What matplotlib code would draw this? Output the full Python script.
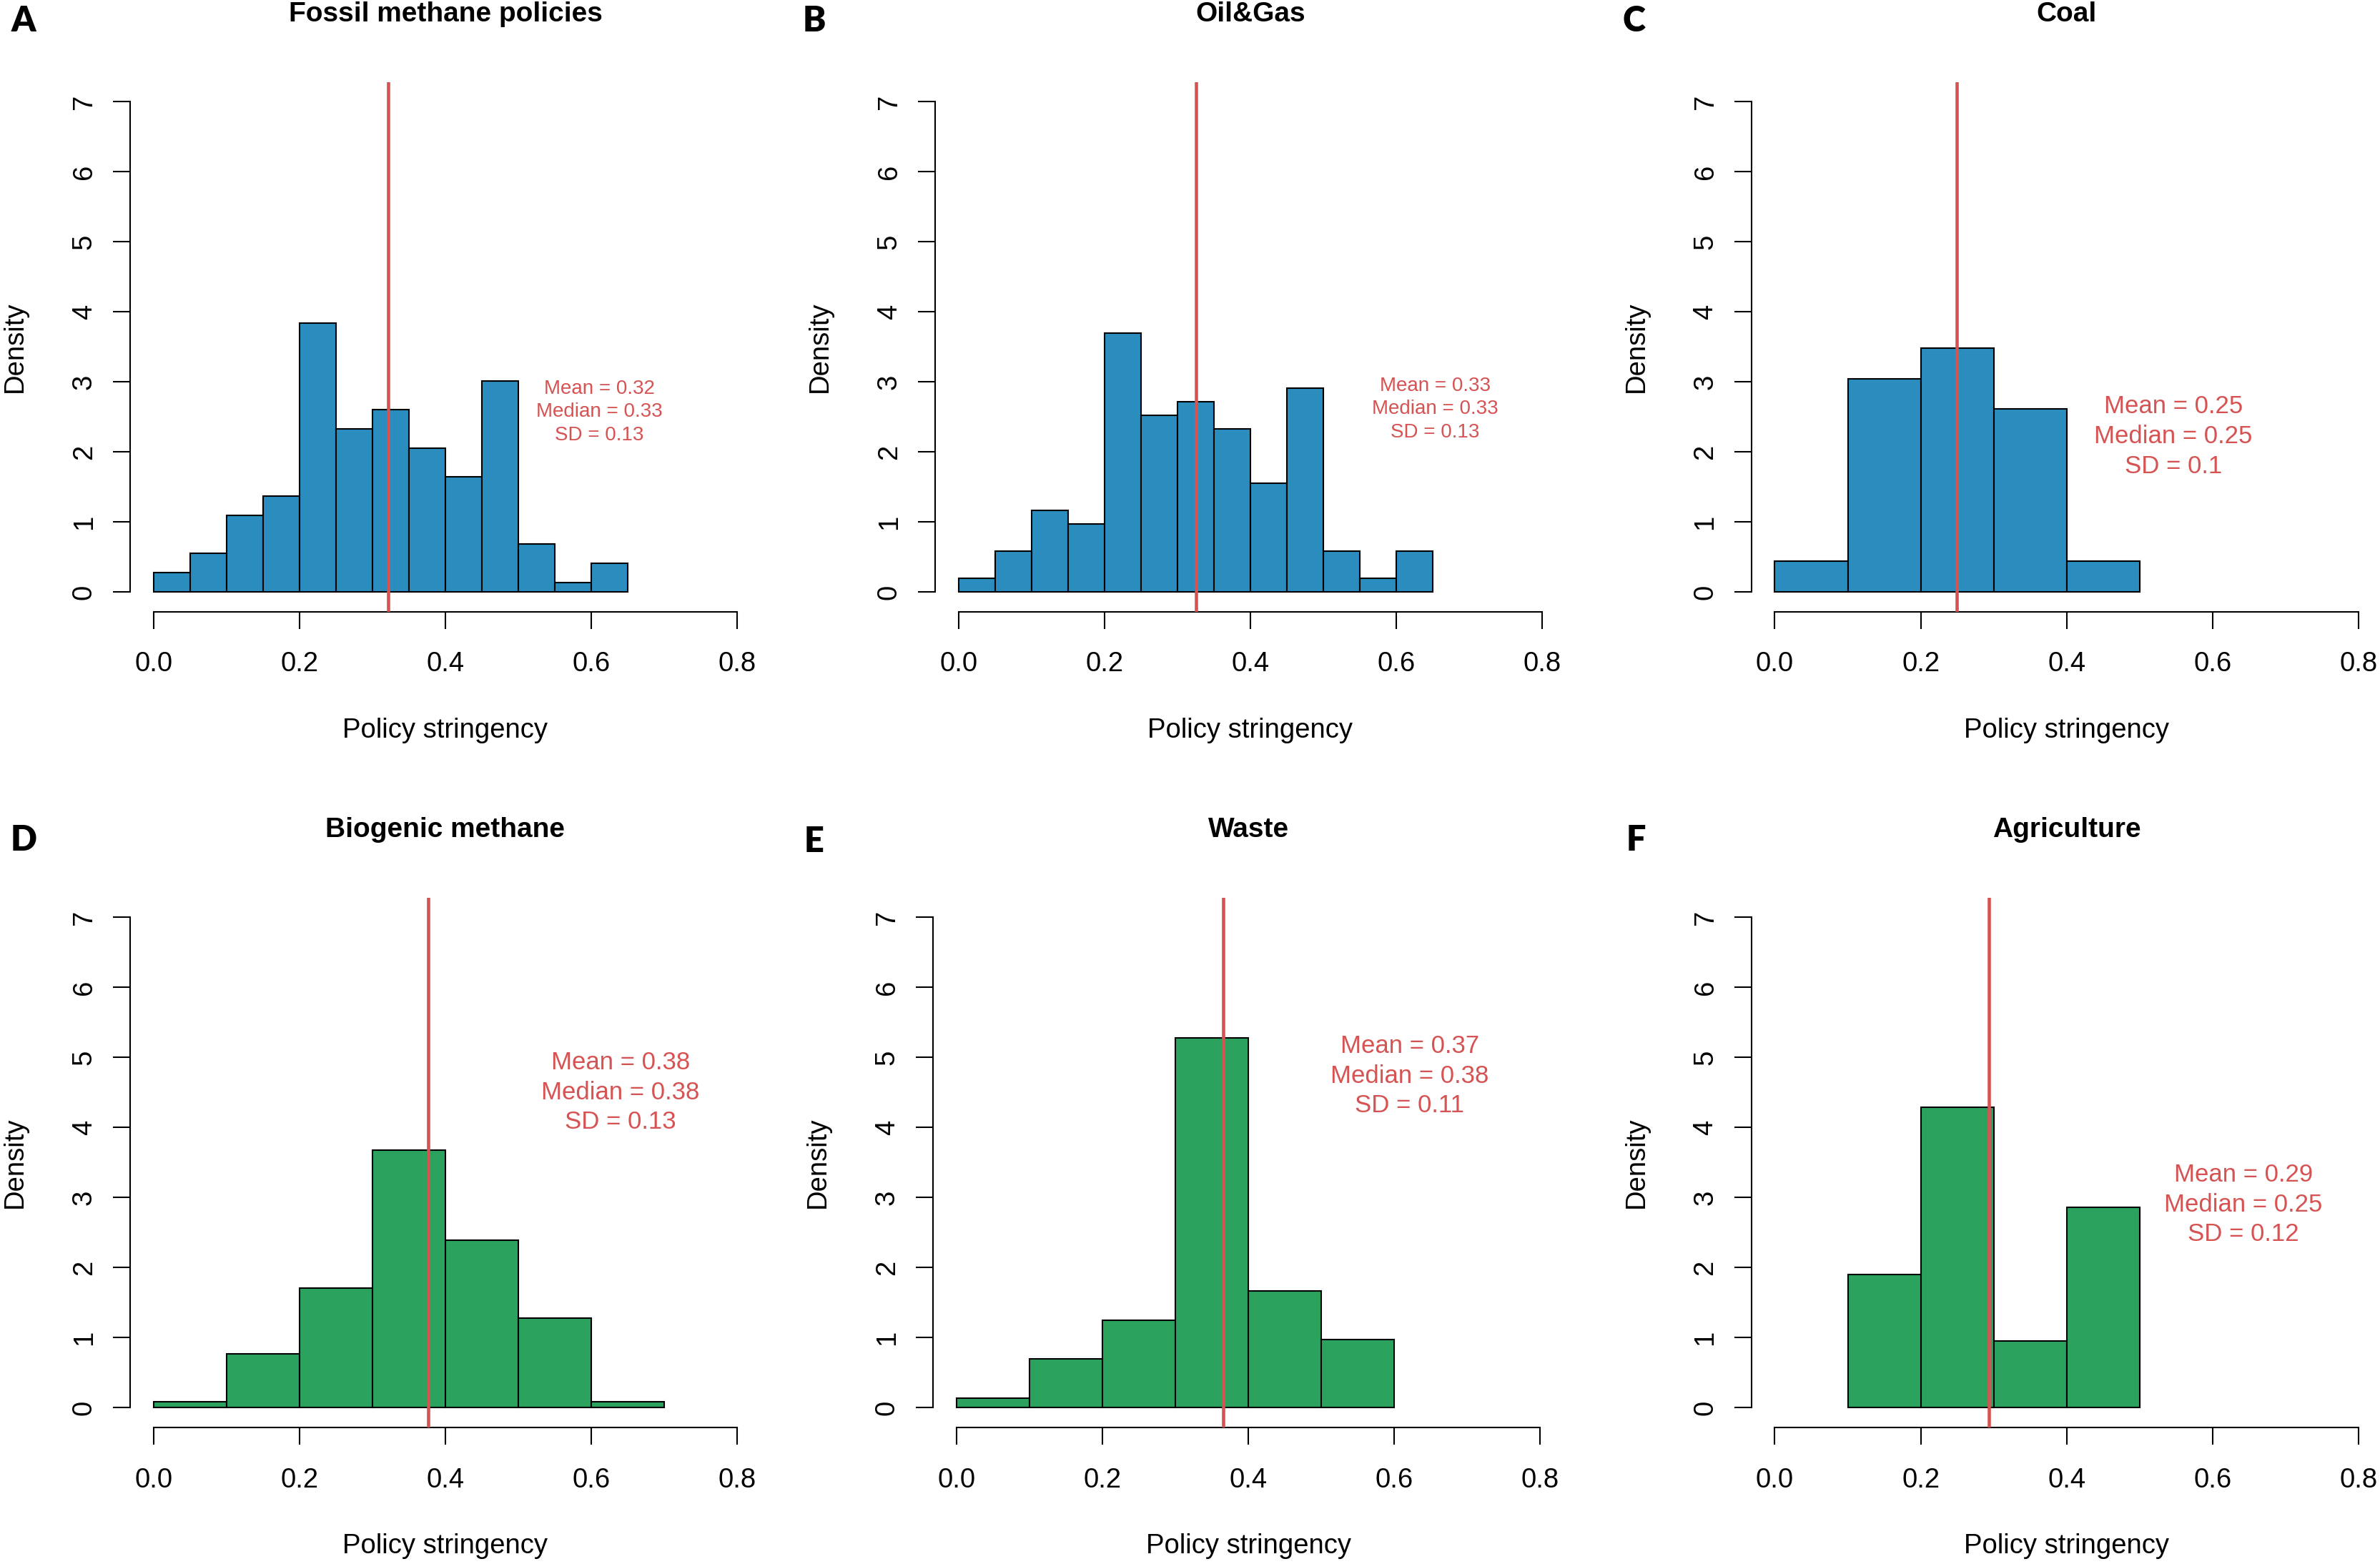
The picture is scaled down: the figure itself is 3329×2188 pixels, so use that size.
import matplotlib
matplotlib.use("Agg")
import matplotlib.pyplot as plt

plt.rcParams['font.family'] = ['Liberation Sans', 'DejaVu Sans']

# ---------------- data ----------------
titles = ["Fossil methane policies", "Oil&Gas", "Coal",
          "Biogenic methane", "Waste", "Agriculture"]
panel_letters = ["A", "B", "C", "D", "E", "F"]

fossil_bins = [0.00, 0.05, 0.10, 0.15, 0.20, 0.25, 0.30, 0.35, 0.40, 0.45, 0.50, 0.55, 0.60]
fossil_density = [0.274, 0.548, 1.096, 1.370, 3.836, 2.329, 2.603, 2.055, 1.644, 3.014, 0.685, 0.137, 0.411]

oilgas_bins = [0.00, 0.05, 0.10, 0.15, 0.20, 0.25, 0.30, 0.35, 0.40, 0.45, 0.50, 0.55, 0.60]
oilgas_density = [0.194, 0.583, 1.165, 0.971, 3.689, 2.524, 2.718, 2.330, 1.553, 2.913, 0.583, 0.194, 0.583]

coal_bins = [0.0, 0.1, 0.2, 0.3, 0.4]
coal_density = [0.435, 3.043, 3.478, 2.609, 0.435]

biogenic_bins = [0.0, 0.1, 0.2, 0.3, 0.4, 0.5, 0.6]
biogenic_density = [0.085, 0.769, 1.709, 3.675, 2.393, 1.282, 0.085]

waste_bins = [0.0, 0.1, 0.2, 0.3, 0.4, 0.5]
waste_density = [0.139, 0.694, 1.250, 5.278, 1.667, 0.972]

agri_bins = [0.1, 0.2, 0.3, 0.4]
agri_density = [1.905, 4.286, 0.952, 2.857]

bin_widths = [0.05, 0.05, 0.1, 0.1, 0.1, 0.1]

mean_values = [0.322, 0.326, 0.249, 0.377, 0.366, 0.293]
stat_texts = ["Mean = 0.32\nMedian = 0.33\nSD = 0.13",
              "Mean = 0.33\nMedian = 0.33\nSD = 0.13",
              "Mean = 0.25\nMedian = 0.25\nSD = 0.1",
              "Mean = 0.38\nMedian = 0.38\nSD = 0.13",
              "Mean = 0.37\nMedian = 0.38\nSD = 0.11",
              "Mean = 0.29\nMedian = 0.25\nSD = 0.12"]

x_ticks = [0.0, 0.2, 0.4, 0.6, 0.8]
x_ticklabels = ["0.0", "0.2", "0.4", "0.6", "0.8"]
y_ticks = [0, 1, 2, 3, 4, 5, 6, 7]
y_ticklabels = ["0", "1", "2", "3", "4", "5", "6", "7"]

all_bins = [fossil_bins, oilgas_bins, coal_bins, biogenic_bins, waste_bins, agri_bins]
all_density = [fossil_density, oilgas_density, coal_density,
               biogenic_density, waste_density, agri_density]

# ---------------- layout / style ----------------
W, H = 3329, 2188
BLUE = "#2B8CBE"
GREEN = "#2CA25F"
RED = "#D65353"
fill_colors = [BLUE, BLUE, BLUE, GREEN, GREEN, GREEN]

# axes boxes in pixels: left, top, width, height
ax_px = [(182.0, 114.5), (1308.0, 114.5), (2449.8, 114.5),
         (182.0, 1255.8), (1305.1, 1255.8), (2449.8, 1255.8)]
AX_W, AX_H = 881.9, 741.0
letter_px = [(33, 29), (1139, 29), (2285, 29), (33, 1176), (1139, 1178), (2288, 1176)]
stat_pos = [(0.611, 2.57), (0.653, 2.61), (0.546, 2.22),
            (0.640, 4.50), (0.621, 4.735), (0.642, 2.90)]
stat_size = [20, 20, 25, 25, 25, 25]

fig = plt.figure(figsize=(W / 100, H / 100), dpi=100)
fig.patch.set_facecolor("white")

LW = 1.5
FS = 27.5

for i in range(6):
    lx, ty = ax_px[i]
    ax = fig.add_axes([lx / W, 1 - (ty + AX_H) / H, AX_W / W, AX_H / H])
    ax.set_facecolor("none")
    ax.bar(all_bins[i], all_density[i], width=bin_widths[i], align="edge",
           color=fill_colors[i], edgecolor="black", linewidth=LW, zorder=2)
    ax.axvline(mean_values[i], color=RED, linewidth=3.3, zorder=3)

    ax.set_xlim(-0.032, 0.832)
    ax.set_ylim(-0.28, 7.28)
    for s in ["top", "right"]:
        ax.spines[s].set_visible(False)
    ax.spines["left"].set_bounds(0, 7)
    ax.spines["bottom"].set_bounds(0, 0.8)
    ax.spines["left"].set_linewidth(LW)
    ax.spines["bottom"].set_linewidth(LW)

    ax.set_xticks(x_ticks)
    ax.set_xticklabels(x_ticklabels, fontsize=FS)
    ax.set_yticks(y_ticks)
    ax.set_yticklabels(y_ticklabels, fontsize=FS, rotation=90, va="center")
    ax.tick_params(axis="both", length=17.3, width=LW, color="black")
    ax.tick_params(axis="x", pad=23)
    ax.tick_params(axis="y", pad=16)

    ax.annotate("Policy stringency", xy=(0.5, 0), xycoords="axes fraction",
                xytext=(0, -166), textcoords="offset pixels",
                ha="center", va="center", fontsize=FS)
    ax.annotate("Density", xy=(0, 0.5), xycoords="axes fraction",
                xytext=(-161, 0), textcoords="offset pixels",
                ha="center", va="center", fontsize=FS, rotation=90)
    ax.annotate(titles[i], xy=(0.5, 1), xycoords="axes fraction",
                xytext=(0, 95), textcoords="offset pixels",
                ha="center", va="center", fontsize=28, fontweight="bold")

    sx, sy = stat_pos[i]
    ax.text(sx, sy, stat_texts[i], color=RED, fontsize=stat_size[i],
            ha="center", va="center", multialignment="center", linespacing=1.33)

    px, py = letter_px[i]
    fig.text(px / W, 1 - py / H, panel_letters[i], ha="center", va="center",
             fontsize=35, fontweight="heavy", family=["Lato", "DejaVu Sans"])

fig.savefig("out.png", dpi=100, facecolor="white")
